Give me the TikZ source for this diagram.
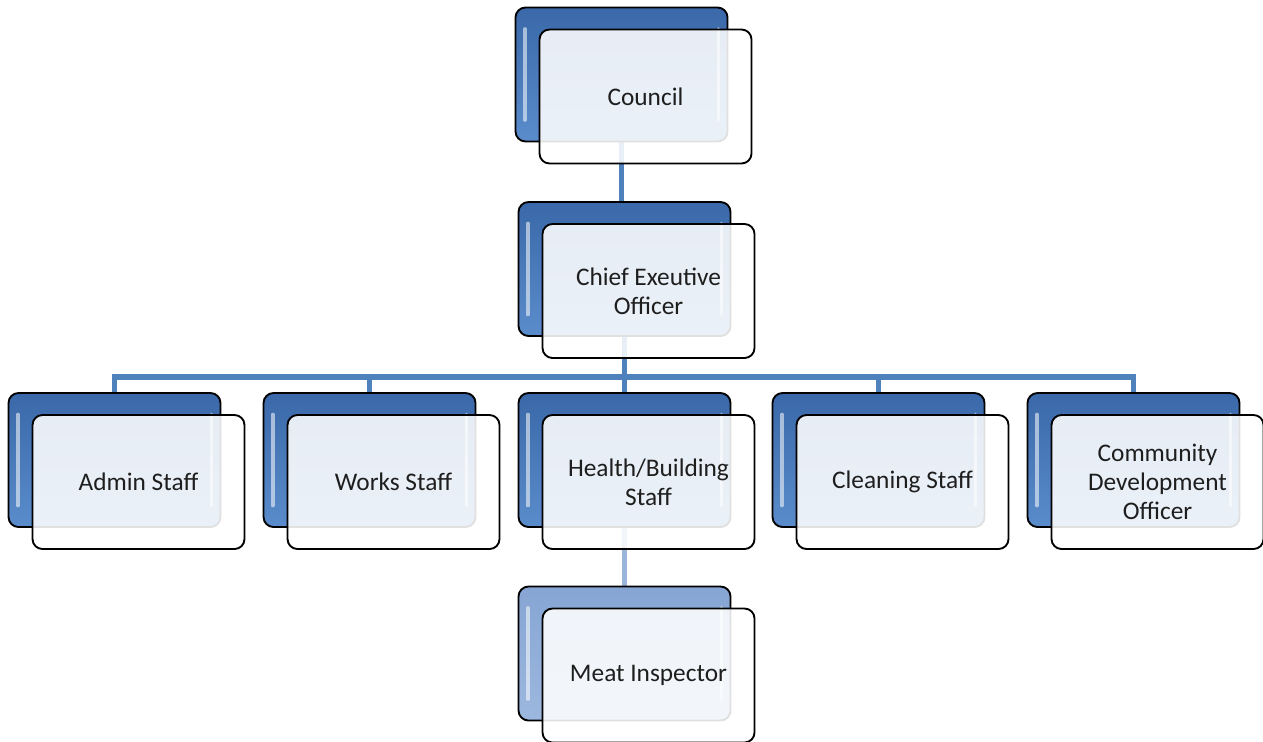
\documentclass[tikz,border=0pt]{standalone}
\usepackage{fontspec}
\setmainfont{Carlito}
\definecolor{linkblue}{HTML}{4F81BD}
\definecolor{linklight}{HTML}{9AB4DA}
\definecolor{backtop}{HTML}{3A68A9}
\definecolor{backmid}{HTML}{4E80C0}
\definecolor{backbot}{HTML}{5A8CCB}
\definecolor{paletop}{HTML}{86A5D3}
\definecolor{palemid}{HTML}{93B0DA}
\definecolor{palebot}{HTML}{9DB8DF}
\definecolor{inktext}{HTML}{1E1E1E}
\tikzset{
  boxbase/.style={rectangle, rounded corners=7.5pt, draw=black, line width=1.4pt,
    minimum width=159pt, minimum height=100.5pt, inner sep=0pt},
  backbox/.style={boxbase, top color=backtop, middle color=backmid, bottom color=backbot,
    path picture={
      \draw[white, opacity=0.55, line width=2.5pt, line cap=round]
        ([xshift=7pt,yshift=-16pt]path picture bounding box.north west) --
        ([xshift=7pt,yshift=16pt]path picture bounding box.south west);
      \draw[white, opacity=0.55, line width=2.5pt, line cap=round]
        ([xshift=-7pt,yshift=-16pt]path picture bounding box.north east) --
        ([xshift=-7pt,yshift=16pt]path picture bounding box.south east);
    }},
  lightback/.style={backbox, top color=paletop, middle color=palemid, bottom color=palebot},
  frontbox/.style={boxbase, fill=white, fill opacity=0.88, text opacity=1,
    text=inktext, align=center, font=\fontsize{19pt}{22pt}\selectfont},
  link/.style={draw=linkblue, line width=3.8pt},
  lightlink/.style={draw=linklight, line width=3.8pt},
}
% two stacked boxes: #1 name, #2 centre of the back box, #3 label, #4 back style
\newcommand{\orgunit}[4][backbox]{%
  \node[#1] (#2-b) at (#3) {};
  \node[frontbox, xshift=18pt, yshift=-16.5pt] (#2) at (#3) {#4};
}
\begin{document}
\begin{tikzpicture}[x=0.75pt, y=-0.75pt]
  \useasboundingbox (0,0) rectangle (1263,742);
  % anchor points (back-box centres)
  \coordinate (pcouncil) at (621.5,74.5);
  \coordinate (pceo) at (624.5,269);
  \coordinate (padmin) at (114.5,460);
  \coordinate (pworks) at (369.5,460);
  \coordinate (phealth) at (624.5,460);
  \coordinate (pclean) at (878.5,460);
  \coordinate (pcdo) at (1133.5,460);
  \coordinate (pmeat) at (624.5,653.5);
  \coordinate (bus) at (624.5,377);

  % connectors sit behind the boxes
  \path[link] (pcouncil) -- (pcouncil |- pceo);
  \path[link] (pceo) -- (bus);
  \path[link] (padmin) |- (bus) -| (pcdo);
  \path[link] (pworks) -- (pworks |- bus);
  \path[link] (pclean) -- (pclean |- bus);
  \path[link] (phealth) -- (phealth |- bus);
  \path[lightlink] (phealth) -- (pmeat);

  \orgunit{council}{pcouncil}{Council}
  \orgunit{ceo}{pceo}{Chief Exeutive\\Officer}
  \orgunit{admin}{padmin}{Admin Staff}
  \orgunit{works}{pworks}{Works Staff}
  \orgunit{health}{phealth}{Health/Building\\Staff}
  \orgunit{clean}{pclean}{Cleaning Staff}
  \orgunit{cdo}{pcdo}{Community\\Development\\Officer}
  \orgunit[lightback]{meat}{pmeat}{Meat Inspector}
\end{tikzpicture}
\end{document}
